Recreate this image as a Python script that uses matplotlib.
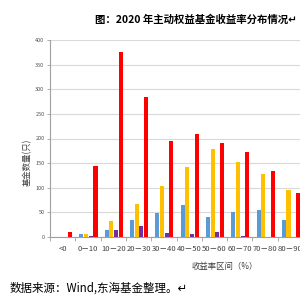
import matplotlib

matplotlib.use("Agg")

import matplotlib.pyplot as plt
import numpy as np

plt.rcParams["font.family"] = ["Noto Sans CJK SC", "DejaVu Sans"]

CATEGORIES = ["<0", "0－10", "10－20", "20－30", "30－40", "40－50",
              "50－60", "60－70", "70－80", "80－90"]
BLUE_VALUES = [0, 6, 14, 35, 48, 64, 41, 50, 55, 35]
YELLOW_VALUES = [0, 7, 33, 68, 104, 142, 179, 153, 128, 96]
PURPLE_VALUES = [0, 2, 14, 23, 8, 6, 11, 2, 0, 0]
RED_VALUES = [11, 144, 375, 285, 194, 209, 190, 173, 134, 90]

SERIES = [
    (BLUE_VALUES, "#5B9BD5"),
    (YELLOW_VALUES, "#FFC000"),
    (PURPLE_VALUES, "#7030A0"),
    (RED_VALUES, "#FF0000"),
]


def main():
    fig = plt.figure(figsize=(3, 3), dpi=100)
    ax = fig.add_axes([50 / 300, 63 / 300, 253 / 300, 197 / 300])

    x = np.arange(len(CATEGORIES))
    step = 0.185
    for i, (values, color) in enumerate(SERIES):
        ax.bar(x + (i - 1.5) * step + 0.02, values, width=0.16, color=color, zorder=3)

    ax.set_xlim(-0.5, len(CATEGORIES) - 0.5)
    ax.set_ylim(0, 400)
    ax.set_yticks(np.arange(0, 401, 50))
    ax.yaxis.grid(True, color="#d9d9d9", linewidth=0.8, zorder=0)

    ax.set_xticks(x)
    ax.set_xticklabels(CATEGORIES, fontsize=5.5, style="italic", color="#404040")
    ax.set_xticks(np.arange(-0.5, len(CATEGORIES), 1), minor=True)
    ax.tick_params(axis="x", which="major", length=0, pad=6)
    ax.tick_params(axis="x", which="minor", length=3, color="#a0a0a0", width=0.6)
    ax.tick_params(axis="y", labelsize=4, colors="#505050", length=2, width=0.6, pad=2)
    ax.tick_params(axis="y", color="#a0a0a0")

    for side in ["top", "right"]:
        ax.spines[side].set_visible(False)
    for side in ["left", "bottom"]:
        ax.spines[side].set_color("#a0a0a0")
        ax.spines[side].set_linewidth(0.8)

    fig.text(0.09, 0.46, "基金数量(只)", rotation=90, fontsize=6, color="#404040",
             ha="center", va="center")
    fig.text(225 / 300, 1 - 267 / 300, "收益率区间（%）", fontsize=6, color="#404040",
             ha="center", va="center")
    fig.text(196 / 300, 1 - 20 / 300, "图：2020 年主动权益基金收益率分布情况↵",
             fontsize=7.5, fontweight="bold", ha="center", va="center")
    fig.text(10 / 300, 1 - 288 / 300, "数据来源：Wind,东海基金整理。↵",
             fontsize=8.3, ha="left", va="center")

    fig.savefig("out.png", dpi=100)
    plt.close(fig)


if __name__ == "__main__":
    main()
